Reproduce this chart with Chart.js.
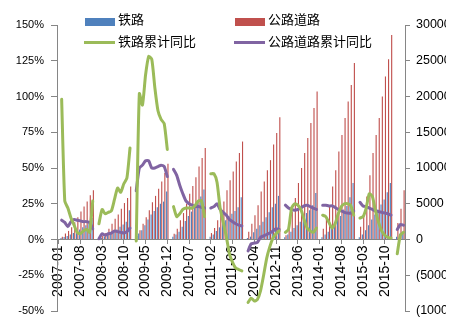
<!DOCTYPE html>
<html>
<head>
<meta charset="utf-8">
<script src="https://cdn.jsdelivr.net/npm/chart.js@4.4.1/dist/chart.umd.min.js"></script>
<style>
  html, body { margin: 0; padding: 0; background: #fff; }
  #wrap { position: relative; width: 446px; height: 331px; }
</style>
</head>
<body>
<div id="wrap"><canvas id="chart"></canvas></div>
<script>
// monthly, 2007-01 .. 2016-04; January is reported together with February, so it stays empty
const firstYear = 2007;
const monthCount = 112;
const months = [];
for (let i = 0; i < monthCount; i++) {
  const y = firstYear + Math.floor(i / 12);
  const m = (i % 12) + 1;
  months.push(`${y}-${String(m).padStart(2, "0")}`);
}

// cumulative investment, right axis
const railInvest = [
  null, 200, 350, 500, 700, 900, 1100, 1400, 1700, 2000, 2300, 3000,
  null, 150, 250, 400, 600, 850, 1100, 1400, 1800, 2100, 2500, 4100,
  null, 450, 850, 1300, 2000, 2800, 3500, 4000, 4500, 5000, 5300, 6700,
  null, 400, 700, 1100, 1800, 2600, 3300, 3900, 4700, 5300, 6000, 7000,
  null, 400, 700, 1200, 1700, 2200, 2700, 3300, 3600, 4000, 4500, 5900,
  null, 200, 400, 1000, 1500, 2000, 2500, 3100, 3800, 4500, 5000, 6100,
  null, 300, 700, 1100, 1600, 2000, 2500, 3200, 3700, 4100, 4800, 6500,
  null, 300, 700, 1100, 1700, 2300, 2800, 3300, 4200, 4700, 5900, 7900,
  null, 300, 700, 1300, 2000, 2800, 3500, 4200, 4900, 5600, 6600, 7900,
  null, 400, 800, 1100,
];
const roadInvest = [
  null, 400, 850, 1200, 1700, 2400, 3100, 3900, 4600, 5300, 6200, 6900,
  null, 200, 500, 900, 1500, 2200, 2900, 3500, 4300, 5100, 5800, 7400,
  null, 500, 1300, 2200, 3100, 4100, 5200, 6100, 7100, 8100, 9300, 10600,
  null, 800, 1500, 2700, 3700, 5000, 6400, 7500, 8700, 10200, 11400, 12800,
  null, 900, 1600, 2700, 3900, 5300, 6900, 8300, 9500, 10900, 12100, 13700,
  null, 1100, 2200, 3400, 4800, 6700, 8100, 9700, 11100, 13300, 14900, 17100,
  null, 600, 1800, 3900, 5800, 7900, 10000, 12100, 14200, 16300, 18400, 20700,
  null, 1500, 3000, 4800, 7400, 9700, 12300, 14600, 17000, 19300, 21600, 24700,
  null, 1800, 3400, 6000, 9000, 12100, 14600, 17000, 20000, 22800, 25200, 28600,
  null, 2300, 4300, 6900,
];

// cumulative year-on-year growth, %, left axis
const railYoY = [
  null, 98, 27, 22, 15, 10, 5, 4, 6, 7, 5, 27,
  null, 11, 21, 18, 19, 20, 28, 36, 33, 39, 43, 64,
  null, -1, 102, 94, 115, 128, 126, 106, 90, 84, 81, 63,
  null, 23, 16, 18, 21, 22, 22, 22, 24, 27, 27, 16,
  null, 46, 46, 40, 22, 12, 2, -10, -16, -20, -21, -22,
  null, -44, -41, -43, -42, -36, -25, -13, -5, 1, 4, 6,
  null, 5, 7, 22, 25, 24, 21, 14, 8, 6, 5, 8,
  null, 17, 16, 12, 8, 11, 18, 23, 25, 25, 24, 17,
  null, 15, 16, 22, 32, 30, 20, 12, 6, 3, 1.5, 1,
  null, -10, 3, 5,
];
const roadYoY = [
  null, 13.5, 12, 9, 12.5, 14, 13.5, 13, 12.5, 12.5, 12, 7.5,
  null, 0.5, 4, 3, 4, 4.5, 6, 5.5, 5, 4.5, 5.5, 8,
  null, 34, 50, 52, 55, 55, 50, 50, 51, 52, 51, 44,
  null, 49, 45, 38, 32, 27, 25, 24, 23, 23, 22.5, 22,
  null, 22, 23, 25, 21, 19, 17, 14, 12.5, 11, 10, 9.5,
  null, -8, -3, -2.5, -2, 1.5, 2.5, 3.5, 4.5, 6, 7.5, 7,
  null, 24, 22, 21, 20.5, 21, 22, 23.5, 24, 23, 22, 21,
  null, 24, 24, 23.5, 23.5, 22.5, 21, 20, 19, 18.5, 18.5, 20,
  null, 26, 23.5, 23, 22, 21, 20, 19.5, 19, 18.5, 18, 17,
  null, 7, 10.5, 10,
];

const BLUE = "#4F81BD";
const RED = "#C0504D";
const GREEN = "#9BBB59";
const PURPLE = "#8064A2";
const AXIS = "#868686";
const labelEvery = 7;

// legend sits inside the plot, two columns by two rows
const legendPlugin = {
  id: "insideLegend",
  afterDraw(chart) {
    const ctx = chart.ctx;
    const slots = [
      { ds: 0, x: 85, y: 19 },
      { ds: 1, x: 235, y: 19 },
      { ds: 2, x: 85, y: 41 },
      { ds: 3, x: 235, y: 41 },
    ];
    ctx.save();
    ctx.font = '13px "Noto Sans CJK SC", sans-serif';
    ctx.textBaseline = "middle";
    ctx.fillStyle = "#000";
    for (const s of slots) {
      const ds = chart.data.datasets[s.ds];
      if (ds.type === "line") {
        ctx.strokeStyle = ds.borderColor;
        ctx.lineWidth = 3;
        ctx.beginPath();
        ctx.moveTo(s.x - 1, s.y + 1.5);
        ctx.lineTo(s.x + 30, s.y + 1.5);
        ctx.stroke();
      } else {
        ctx.fillStyle = ds.backgroundColor;
        ctx.fillRect(s.x, s.y - 1, 30, 8);
      }
      ctx.fillStyle = "#000";
      ctx.fillText(ds.label, s.x + 33, s.y);
    }
    ctx.restore();
  },
};

const lineStyle = {
  type: "line",
  yAxisID: "y",
  borderWidth: 3,
  pointRadius: 0,
  tension: 0.2,
  borderCapStyle: "round",
  borderJoinStyle: "round",
  spanGaps: false,
  order: 0,
};

new Chart(document.getElementById("chart"), {
  type: "bar",
  data: {
    labels: months,
    datasets: [
      { label: "铁路", data: railInvest, backgroundColor: BLUE, yAxisID: "y1", order: 1 },
      { label: "公路道路", data: roadInvest, backgroundColor: RED, yAxisID: "y1", order: 1 },
      { ...lineStyle, label: "铁路累计同比", data: railYoY, borderColor: GREEN },
      { ...lineStyle, label: "公路道路累计同比", data: roadYoY, borderColor: PURPLE },
    ],
  },
  options: {
    responsive: true,
    maintainAspectRatio: false,
    animation: false,
    layout: { padding: { top: 25, bottom: 20, left: 0, right: 0 } },
    datasets: {
      bar: { categoryPercentage: 0.85, barPercentage: 0.85 },
    },
    plugins: {
      legend: { display: false },
      tooltip: { enabled: false },
    },
    scales: {
      x: {
        position: { y: 0 },
        grid: {
          drawOnChartArea: false,
          offset: false,
          tickLength: 4,
          color: (c) => (c.index % labelEvery === 0 ? AXIS : "rgba(0,0,0,0)"),
        },
        border: { color: AXIS },
        ticks: {
          autoSkip: false,
          minRotation: 90,
          maxRotation: 90,
          padding: 2,
          color: "#000",
          font: { family: '"Liberation Sans", Arial, sans-serif', size: 14 },
          callback(v, i) {
            return i % labelEvery === 0 ? this.getLabelForValue(v) : "";
          },
        },
      },
      y: {
        position: "left",
        min: -50,
        max: 150,
        afterFit(scale) { scale.width = 57; },
        grid: { drawOnChartArea: false, tickLength: 6, color: AXIS },
        border: { color: AXIS },
        ticks: {
          stepSize: 25,
          padding: 7,
          color: "#000",
          font: { family: '"Liberation Sans", Arial, sans-serif', size: 11 },
          callback: (v) => `${v}%`,
        },
      },
      y1: {
        position: "right",
        min: -10000,
        max: 30000,
        afterFit(scale) { scale.width = 41; },
        grid: { drawOnChartArea: false, tickLength: 5, color: AXIS },
        border: { color: AXIS },
        ticks: {
          stepSize: 5000,
          padding: 6,
          color: "#000",
          font: { family: '"Liberation Sans", Arial, sans-serif', size: 12.5 },
          callback: (v) => (v < 0 ? `(${-v})` : `${v}`),
        },
      },
    },
  },
  plugins: [legendPlugin],
});
</script>
</body>
</html>
